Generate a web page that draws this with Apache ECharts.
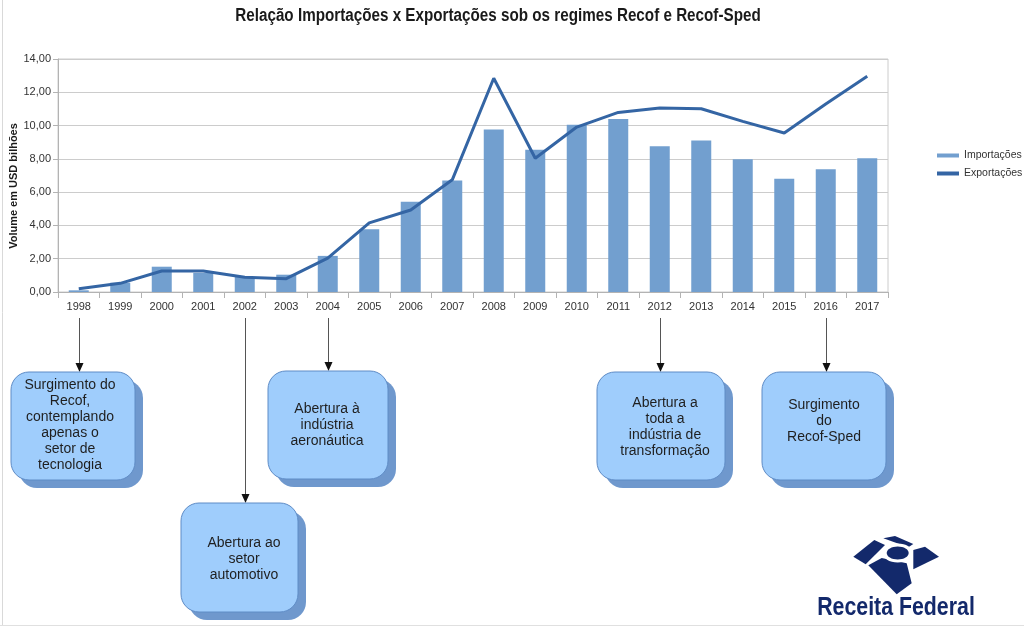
<!DOCTYPE html>
<html>
<head>
<meta charset="utf-8">
<script src="https://cdn.jsdelivr.net/npm/echarts@6/dist/echarts.min.js"></script>
<style>
html,body{margin:0;padding:0;background:#fff;}
#c{width:1024px;height:630px;}
</style>
</head>
<body>
<div id="c"></div>
<script>
const years = ['1998','1999','2000','2001','2002','2003','2004','2005','2006','2007','2008','2009','2010','2011','2012','2013','2014','2015','2016','2017'];
const importacoes = [0.10,0.56,1.52,1.15,0.90,1.04,2.17,3.77,5.42,6.70,9.77,8.54,10.05,10.39,8.76,9.10,7.98,6.80,7.38,8.04];
const exportacoes = [0.20,0.52,1.26,1.26,0.88,0.80,2.03,4.15,4.93,6.74,12.84,8.04,9.91,10.79,11.05,11.01,10.25,9.55,11.29,12.96];
const seriesNames = ['Importações','Exportações'];
const titleText = 'Relação Importações x Exportações sob os regimes Recof e Recof-Sped';
const yAxisName = 'Volume em USD bilhões';
const yTicks = [0,2,4,6,8,10,12,14];
const annotationYears = ['1998','2002','2004','2012','2016'];
const annotationTexts = [
  ['Surgimento do','Recof,','contemplando','apenas o','setor de','tecnologia'],
  ['Abertura ao','setor','automotivo'],
  ['Abertura à','indústria','aeronáutica'],
  ['Abertura a','toda a','indústria de','transformação'],
  ['Surgimento','do','Recof-Sped']
];
const logoText = 'Receita Federal';

const SANS = '"Liberation Sans", Arial, sans-serif';

const chart = echarts.init(document.getElementById('c'), null, {renderer:'canvas', width:1024, height:630});

const option = {
  animation: false,
  backgroundColor: '#ffffff',
  legend: {
    orient: 'vertical', left: 932, top: 145, itemWidth: 22, itemHeight: 4, itemGap: 7, itemTextGap: 5,
    data: [{name: seriesNames[0], icon: 'rect'}, {name: seriesNames[1], icon: 'rect'}],
    textStyle: {fontFamily: SANS, fontSize: 10.5, color: '#333'}
  },
  grid: {left: 58, right: 136, top: 59, bottom: 338, show: true, borderColor: '#cccccc', borderWidth: 1, containLabel: false},
  xAxis: {
    type: 'category', data: years, boundaryGap: true,
    axisLine: {lineStyle: {color: '#b3b3b3'}},
    axisTick: {show: true, length: 6, lineStyle: {color: '#b3b3b3'}},
    axisLabel: {fontFamily: SANS, fontSize: 11, color: '#333', margin: 9, interval: 0}
  },
  yAxis: {
    type: 'value', min: yTicks[0], max: yTicks[yTicks.length-1], interval: 2,
    axisLine: {show: true, lineStyle: {color: '#b3b3b3'}},
    axisTick: {show: true, length: 5, lineStyle: {color: '#b3b3b3'}},
    axisLabel: {fontFamily: SANS, fontSize: 11, color: '#333', margin: 7,
      formatter: v => v.toFixed(2).replace('.', ',')},
    splitLine: {lineStyle: {color: '#cccccc'}}
  },
  series: [
    {type: 'bar', name: seriesNames[0], data: importacoes, barWidth: 20,
     itemStyle: {color: '#729fcf'}},
    {type: 'line', name: seriesNames[1], data: exportacoes, symbol: 'none',
     lineStyle: {width: 3, color: '#3465a4'}, itemStyle: {color: '#3465a4'}}
  ]
};
chart.setOption(option);

// annotation layout (boxes)
const boxes = [
  {x: 11, y: 372, w: 124, h: 108, tx: 70, ty: 425},
  {x: 181, y: 503, w: 117, h: 109, tx: 244, ty: 559},
  {x: 268, y: 371, w: 120, h: 108, tx: 327, ty: 425},
  {x: 597, y: 372, w: 128, h: 108, tx: 665, ty: 427},
  {x: 762, y: 372, w: 124, h: 108, tx: 824, ty: 421}
];
const arrowStartY = 318;
const graphics = [];

// title (real text, horizontally condensed to match the original narrow face)
graphics.push({type: 'text', x: 498, y: 16, scaleX: 0.87,
  style: {text: titleText, fontFamily: SANS, fontWeight: 'bold', fontSize: 17.5, fill: '#1a1a1a', align: 'center', verticalAlign: 'middle'}});

// frame lines of the picture
graphics.push({type: 'line', shape: {x1: 2.5, y1: 0, x2: 2.5, y2: 625}, style: {stroke: '#d9d9d9', lineWidth: 1}, silent: true});
graphics.push({type: 'line', shape: {x1: 0, y1: 625.5, x2: 1024, y2: 625.5}, style: {stroke: '#e0e0e0', lineWidth: 1}, silent: true});

// y axis name
graphics.push({type: 'text', x: 14, y: 186, rotation: Math.PI/2,
  style: {text: yAxisName, fontFamily: SANS, fontWeight: 'bold', fontSize: 11, fill: '#1a1a1a', align: 'center', verticalAlign: 'middle'}});

annotationYears.forEach((yr, i) => {
  const px = Math.round(chart.convertToPixel({xAxisIndex: 0}, yr)) + 0.5;
  const b = boxes[i];
  graphics.push({type: 'line', shape: {x1: px, y1: arrowStartY, x2: px, y2: b.y - 8}, style: {stroke: '#555', lineWidth: 1}});
  graphics.push({type: 'polygon', shape: {points: [[px-4, b.y-9], [px+4, b.y-9], [px, b.y]]}, style: {fill: '#111'}});
  graphics.push({type: 'rect', shape: {x: b.x+8, y: b.y+8, width: b.w, height: b.h, r: 18}, style: {fill: '#6f98cd'}});
  graphics.push({type: 'rect', shape: {x: b.x, y: b.y, width: b.w, height: b.h, r: 18}, style: {fill: '#9fcdfc', stroke: '#5f8cc6', lineWidth: 1}});
  graphics.push({type: 'text', x: b.tx, y: b.ty,
    style: {text: annotationTexts[i].join('\n'), fontFamily: SANS, fontSize: 14, lineHeight: 16, fill: '#1f1f1f', align: 'center', verticalAlign: 'middle'}});
});

// Receita Federal logo
const navy = '#13296b';
graphics.push({type: 'polygon', shape: {points: [[853.3,556.7],[874.3,540],[885,545],[865.7,564.3]]}, style: {fill: navy}});
graphics.push({type: 'polygon', shape: {points: [[883.3,538.3],[895,536],[913.3,544],[908.3,547.3]]}, style: {fill: navy}});
graphics.push({type: 'polygon', shape: {points: [[913.3,550],[925,546.7],[939,556.7],[913.3,569.3]]}, style: {fill: navy}});
graphics.push({type: 'polygon', shape: {points: [[868.3,565.3],[881.7,558],[906.7,563.3],[911.7,583.3],[896.7,594.3]]}, style: {fill: navy}});
graphics.push({type: 'ellipse', shape: {cx: 897.7, cy: 553, rx: 15, ry: 9.5}, style: {fill: '#ffffff'}});
graphics.push({type: 'ellipse', shape: {cx: 897.7, cy: 553, rx: 11, ry: 6.5}, style: {fill: navy}});
graphics.push({type: 'text', x: 896, y: 621, scaleX: 0.82,
  style: {text: logoText, fontFamily: SANS, fontWeight: 'bold', fontSize: 26, fill: navy, align: 'center', verticalAlign: 'bottom'}});

chart.setOption({graphic: graphics});
</script>
</body>
</html>
